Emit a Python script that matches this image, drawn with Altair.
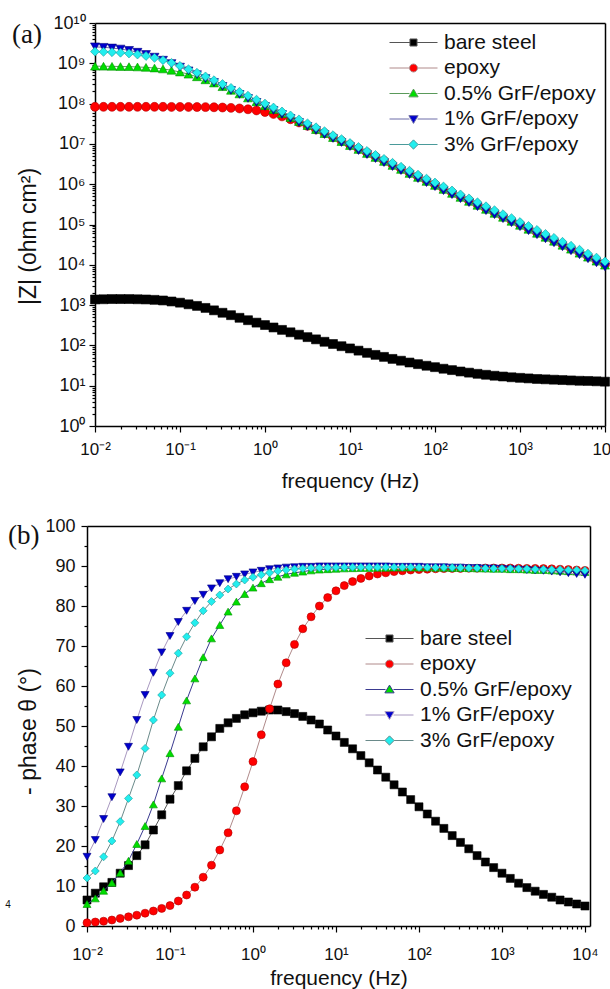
import altair as alt
import pandas as pd

# ---------------- data ----------------
freq = [0.01, 0.01259, 0.01585, 0.01995, 0.02512, 0.03162, 0.03981, 0.05012, 0.0631, 0.07943,
        0.1, 0.1259, 0.1585, 0.1995, 0.2512, 0.3162, 0.3981, 0.5012, 0.631, 0.7943,
        1, 1.259, 1.585, 1.995, 2.512, 3.162, 3.981, 5.012, 6.31, 7.943,
        10, 12.59, 15.85, 19.95, 25.12, 31.62, 39.81, 50.12, 63.1, 79.43,
        100, 125.9, 158.5, 199.5, 251.2, 316.2, 398.1, 501.2, 631, 794.3,
        1000, 1259, 1585, 1995, 2512, 3162, 3981, 5012, 6310, 7943, 10000]

series_names = ["bare steel", "epoxy", "0.5% GrF/epoxy", "1% GrF/epoxy", "3% GrF/epoxy"]

# log10 |Z| (ohm cm2)
logZ_bare = [3.14, 3.145, 3.15, 3.15, 3.15, 3.145, 3.14, 3.13, 3.115,
             3.09, 3.06, 3.02, 2.98, 2.93, 2.87, 2.81, 2.75, 2.685, 2.625, 2.565, 2.505,
             2.445, 2.385, 2.325, 2.265, 2.205, 2.15, 2.09, 2.035, 1.98, 1.925,
             1.87, 1.815, 1.765, 1.715, 1.665, 1.62, 1.575, 1.535, 1.495, 1.46,
             1.421, 1.387, 1.353, 1.324, 1.295, 1.271, 1.247, 1.228, 1.209, 1.195,
             1.181, 1.167, 1.158, 1.149, 1.14, 1.131, 1.122, 1.118, 1.109, 1.10]
logZ_epoxy = [7.92, 7.92, 7.92, 7.92, 7.92, 7.92, 7.92, 7.92, 7.92, 7.918, 7.918,
              7.917, 7.915, 7.913, 7.909, 7.903, 7.894, 7.88, 7.859, 7.831, 7.792,
              7.743, 7.683, 7.612, 7.533, 7.449, 7.359, 7.266, 7.171, 7.075, 6.977,
              6.879, 6.781, 6.683, 6.584, 6.485, 6.386, 6.287, 6.188, 6.089, 5.99,
              5.891, 5.792, 5.693, 5.594, 5.495, 5.396, 5.297, 5.198, 5.099, 5.0,
              4.901, 4.802, 4.703, 4.604, 4.505, 4.406, 4.307, 4.208, 4.109, 4.01]
logZ_g05 = [8.928, 8.927, 8.925, 8.92, 8.917, 8.91, 8.899, 8.883, 8.86, 8.827, 8.784,
            8.73, 8.665, 8.59, 8.51, 8.42, 8.33, 8.24, 8.14, 8.045, 7.948,
            7.851, 7.752, 7.653, 7.554, 7.455, 7.356, 7.257, 7.158, 7.059, 6.96,
            6.861, 6.762, 6.663, 6.564, 6.465, 6.366, 6.267, 6.168, 6.069, 5.97,
            5.871, 5.772, 5.673, 5.574, 5.475, 5.376, 5.277, 5.178, 5.079, 4.98,
            4.881, 4.782, 4.683, 4.584, 4.485, 4.386, 4.287, 4.188, 4.089, 3.99]
logZ_g1 = [9.409, 9.397, 9.38, 9.354, 9.321, 9.275, 9.219, 9.153, 9.077, 8.994, 8.905,
           8.8125, 8.718, 8.6215, 8.524, 8.4255, 8.327, 8.228, 8.129, 8.03, 7.93,
           7.83, 7.731, 7.631, 7.532, 7.432, 7.333, 7.233, 7.134, 7.034, 6.935,
           6.835, 6.736, 6.636, 6.537, 6.437, 6.338, 6.238, 6.139, 6.039, 5.94,
           5.84, 5.741, 5.641, 5.542, 5.442, 5.343, 5.243, 5.144, 5.044, 4.945,
           4.845, 4.746, 4.646, 4.547, 4.447, 4.348, 4.248, 4.149, 4.049, 3.95]
logZ_g3 = [9.29, 9.284, 9.276, 9.263, 9.245, 9.218, 9.182, 9.135, 9.078, 9.011, 8.935,
           8.852, 8.765, 8.674, 8.58, 8.485, 8.389, 8.292, 8.195, 8.097, 8.0,
           7.902, 7.804, 7.706, 7.608, 7.51, 7.412, 7.314, 7.216, 7.118, 7.02,
           6.922, 6.824, 6.726, 6.628, 6.53, 6.432, 6.334, 6.236, 6.138, 6.04,
           5.942, 5.844, 5.746, 5.648, 5.55, 5.452, 5.354, 5.256, 5.158, 5.06,
           4.962, 4.864, 4.766, 4.668, 4.57, 4.472, 4.374, 4.276, 4.178, 4.08]

# - phase (degrees)
phase_bare = [6.5, 8.2, 9.8, 10.9, 13.2, 15.1, 17.6, 20.3, 24.0, 27.8, 31.7, 35.1, 38.8, 41.9,
              44.8, 47.3, 49.4, 50.8, 51.9, 52.8, 53.3, 53.7, 54.0, 54.0,
              53.6, 53.1, 52.4, 51.5, 50.5, 49.0, 47.5, 45.9, 44.3, 42.6, 40.8, 39.0, 37.2,
              35.3, 33.5, 31.6, 29.8, 28.0, 26.2, 24.4, 22.6, 20.9, 19.3, 17.6, 16.0, 14.6,
              13.2, 11.9, 10.7, 9.6, 8.7, 7.9, 7.2, 6.5, 6.0, 5.5, 5.0]
phase_epoxy = [0.8, 1.0, 1.2, 1.5, 1.9, 2.3, 2.7, 3.2, 3.75, 4.4, 5.1, 6.25, 7.75, 9.7, 12.2,
               15.2, 19.0, 23.3, 28.8, 34.8, 41.1, 47.8, 54.3,
               60.5, 65.8, 70.4, 74.3, 77.3, 80.0, 82.1, 83.8, 85.1, 86.1, 86.9, 87.5,
               88.0, 88.3, 88.6, 88.8, 89.0, 89.1, 89.2, 89.3, 89.35, 89.4, 89.4, 89.45, 89.45,
               89.5, 89.5, 89.5, 89.5, 89.45, 89.4, 89.4, 89.35, 89.3, 89.2, 89.1, 89.0, 88.9]
phase_g05 = [5.5, 6.9, 8.8, 10.8, 13.3, 16.3, 20.5, 25.0, 30.4, 36.9, 43.2, 49.8, 56.4,
             61.9, 67.2, 71.9, 75.25, 78.6, 81.1, 83.0, 84.6, 85.7, 86.7, 87.3, 87.9,
             88.3, 88.6, 88.9, 89.1, 89.2, 89.3, 89.4, 89.45, 89.5, 89.5, 89.55, 89.55, 89.6,
             89.6, 89.6, 89.6, 89.6, 89.55, 89.55, 89.5, 89.5, 89.45, 89.4, 89.35, 89.3,
             89.3, 89.2, 89.2, 89.1, 89.0, 89.0, 88.9, 88.8, 88.7, 88.6, 88.5]
phase_g1 = [17.3, 21.5, 26.75, 32.2, 38.4, 44.8, 51.5,
            57.75, 63.3, 68.4, 72.5, 76.0, 78.8, 81.25, 82.8, 84.4, 85.7, 86.7, 87.3, 87.9,
            88.4, 88.8, 89.2, 89.4, 89.6,
            89.7, 89.8, 89.8, 89.9, 89.9, 89.9, 89.9, 89.9, 89.9, 89.9, 89.9, 89.9, 89.8,
            89.8, 89.8, 89.8, 89.7, 89.7, 89.7, 89.6, 89.6, 89.5, 89.5, 89.4, 89.4, 89.3,
            89.2, 89.1, 89.0, 88.9, 88.8, 88.6, 88.4, 88.2, 88.0, 87.8]
phase_g3 = [12.0, 13.75, 17.3, 21.25, 26.1, 31.9, 37.75, 44.4, 51.5,
            57.75, 63.2, 68.2, 72.3, 75.8, 78.8, 81.1, 82.75, 84.25, 85.5, 86.5, 87.2, 87.8,
            88.3, 88.75, 89.0, 89.25,
            89.4, 89.5, 89.55, 89.6, 89.65, 89.7, 89.7, 89.7, 89.7, 89.7, 89.7, 89.7, 89.7,
            89.7, 89.65, 89.65, 89.6, 89.6, 89.6, 89.55, 89.5, 89.5, 89.45, 89.4, 89.4,
            89.35, 89.3, 89.3, 89.2, 89.2, 89.1, 89.1, 89.0, 89.0, 88.9]

logZ_all = [logZ_bare, logZ_epoxy, logZ_g05, logZ_g1, logZ_g3]
phase_all = [phase_bare, phase_epoxy, phase_g05, phase_g1, phase_g3]

# ---------------- styles ----------------
marker_fill = ["#000000", "#ff0000", "#00dd00", "#0000cc", "#22eeee"]
marker_edge = ["#000000", "#b00000", "#009000", "#000080", "#159a9a"]
shapes = ["square", "circle", "triangle-up", "triangle-down", "diamond"]
line_top = ["#555555", "#b08a8a", "#5a9a5a", "#6c6ca8", "#4a9a9a"]
line_bot = ["#555555", "#b08a8a", "#3a3a90", "#a898c0", "#6a8a8a"]
legend_paths = [
    "M-3,0L-0.44,0M0.44,0L3,0M-0.44,-0.44L0.44,-0.44L0.44,0.44L-0.44,0.44Z",
    "M-3,0L-0.5,0M0.5,0L3,0M0.5,0A0.5,0.5,0,1,1,-0.5,0A0.5,0.5,0,1,1,0.5,0Z",
    "M-3,0L-0.5,0M0.5,0L3,0M0,-0.55L0.58,0.42L-0.58,0.42Z",
    "M-3,0L-0.5,0M0.5,0L3,0M0,0.55L0.58,-0.42L-0.58,-0.42Z",
    "M-3,0L-0.58,0M0.58,0L3,0M0,-0.58L0.58,0L0,0.58L-0.58,0Z",
]
FONT = "Liberation Sans"
SUP = str.maketrans("-0123456789", "⁻⁰¹²³⁴⁵⁶⁷⁸⁹")
LOGV = "log(datum.value)/LN10"
IS_DEC = f"abs({LOGV} - round({LOGV})) < 0.01"

# page geometry of the two plot frames (left, right, top, bottom)
W, H = 610, 989
TOP = dict(l=95, r=605, t=23, b=426)
BOT = dict(l=87, r=590, t=526, b=926)


def decade_label_expr(lo, hi):
    expr = "''"
    for e in range(hi, lo - 1, -1):
        expr = f"round({LOGV}) == {e} ? '10{str(e).translate(SUP)}' : {expr}"
    return f"({IS_DEC}) ? ({expr}) : ''"


def log_ticks(lo, hi):
    vals = []
    for e in range(lo, hi):
        for m in range(1, 10):
            vals.append(float(f"{m}e{e}"))
    vals.append(float(f"1e{hi}"))
    return vals


def tick_cond(test, major, minor):
    return {"condition": {"test": test, "value": major}, "value": minor}


def frame_axes(g):
    ax_top = alt.Axis(orient="top", offset=-g["t"], labels=False, ticks=False, title=None,
                      grid=False, domainColor="black", domainWidth=1.5)
    ax_right = alt.Axis(orient="right", offset=-(W - g["r"]), labels=False, ticks=False,
                        title=None, grid=False, domainColor="black", domainWidth=1.5)
    return ax_top, ax_right


# ---------------- data frames ----------------
top_rows, bot_rows = [], []
for name, zs, ps in zip(series_names, logZ_all, phase_all):
    for f, z, p in zip(freq, zs, ps):
        top_rows.append({"freq": f, "Z": 10 ** z, "series": name})
        bot_rows.append({"freq": f, "phase": p, "series": name})
top_df = pd.DataFrame(top_rows)
bot_df = pd.DataFrame(bot_rows)


def series_layers(df, yfield, xscale, yscale, ax_x, ax_y, fr_x, fr_y, line_colors, size):
    layers = []
    for i, name in enumerate(series_names):
        base = alt.Chart(df).transform_filter(alt.datum.series == name)
        lx, ly = (ax_x, ax_y) if i == 0 else (None, None)
        px, py = (fr_x, fr_y) if i == 0 else (None, None)
        layers.append(base.mark_line(color=line_colors[i], strokeWidth=1).encode(
            x=alt.X("freq:Q", scale=xscale, axis=lx),
            y=alt.Y(f"{yfield}:Q", scale=yscale, axis=ly)))
        layers.append(base.mark_point(shape=shapes[i], filled=True, fill=marker_fill[i],
                                      stroke=marker_edge[i], strokeWidth=0.6, opacity=1,
                                      size=size).encode(
            x=alt.X("freq:Q", scale=xscale, axis=px),
            y=alt.Y(f"{yfield}:Q", scale=yscale, axis=py)))
    return layers


def legend_layer(domain, line_colors, lx, ly):
    lg = alt.Legend(orient="none", legendX=lx, legendY=ly, title=None, labelFont=FONT,
                    labelFontSize=21, labelColor="#111111", labelOffset=20, labelLimit=400,
                    symbolSize=256, symbolStrokeWidth=1, symbolOpacity=1, rowPadding=3.5,
                    padding=0)
    return alt.Chart(pd.DataFrame({"series": domain})).transform_filter("false").mark_point(
        filled=True, opacity=1).encode(
        fill=alt.Fill("series:N", scale=alt.Scale(domain=domain, range=marker_fill), legend=lg),
        stroke=alt.Stroke("series:N", scale=alt.Scale(domain=domain, range=line_colors), legend=lg),
        shape=alt.Shape("series:N", scale=alt.Scale(domain=domain, range=legend_paths), legend=lg),
    )


def text_layer(txt, x, y, font, size, align="left"):
    return alt.Chart(pd.DataFrame({"t": [txt]})).mark_text(
        align=align, baseline="middle", font=font, fontSize=size, color="#111111"
    ).encode(x=alt.value(x), y=alt.value(y), text="t:N")


# ---------------- top panel (|Z|) ----------------
xs_top = alt.Scale(type="log", domain=[0.01, 10000], range=[TOP["l"], TOP["r"]], nice=False)
ys_top = alt.Scale(type="log", domain=[1, 1e10], range=[TOP["b"], TOP["t"]], nice=False)
xaxis_top = alt.Axis(orient="bottom", offset=TOP["b"] - H, values=log_ticks(-2, 4),
                     labelExpr=decade_label_expr(-2, 4), tickSize=tick_cond(IS_DEC, 6, 3),
                     labelFontSize=17, labelPadding=9, labelOverlap=False, labelFlush=False,
                     labelBound=False, title="frequency (Hz)", titleFontSize=21,
                     titleX=(TOP["l"] + TOP["r"]) / 2, titleY=55, titleBaseline="middle",
                     titleAlign="center")
yaxis_top = alt.Axis(orient="left", offset=-TOP["l"], values=log_ticks(0, 10),
                     labelExpr=decade_label_expr(0, 10), tickSize=tick_cond(IS_DEC, 6, 3),
                     labelFontSize=18, labelPadding=4, labelOverlap=False, labelFlush=False,
                     labelBound=False, title="|Z| (ohm cm²)", titleFontSize=23,
                     titleX=28 - TOP["l"], titleY=236, titleBaseline="middle",
                     titleAlign="center", titleAngle=270)
fr_top_x, fr_top_y = frame_axes(TOP)

# ---------------- bottom panel (phase) ----------------
xs_bot = alt.Scale(type="log", domain=[0.01, 11500], range=[BOT["l"], BOT["r"]], nice=False)
ys_bot = alt.Scale(domain=[0, 100], range=[BOT["b"], BOT["t"]], nice=False)
xaxis_bot = alt.Axis(orient="bottom", offset=BOT["b"] - H, values=log_ticks(-2, 4),
                     labelExpr=decade_label_expr(-2, 4), tickSize=tick_cond(IS_DEC, 6, 3),
                     labelFontSize=17, labelPadding=14, labelOverlap=False, labelFlush=False,
                     labelBound=False, title="frequency (Hz)", titleFontSize=21,
                     titleX=(BOT["l"] + BOT["r"]) / 2, titleY=52, titleBaseline="middle",
                     titleAlign="center")
yaxis_bot = alt.Axis(orient="left", offset=-BOT["l"], values=list(range(0, 101, 5)),
                     labelExpr="datum.value % 10 == 0 ? datum.label : ''",
                     tickSize=tick_cond("datum.value % 10 == 0", 6, 3), labelFontSize=18,
                     labelPadding=6, labelOverlap=False, labelFlush=False, labelBound=False,
                     title="- phase θ (°)", titleFontSize=23, titleX=28 - BOT["l"], titleY=731,
                     titleBaseline="middle", titleAlign="center", titleAngle=270)
fr_bot_x, fr_bot_y = frame_axes(BOT)

layers = []
layers += series_layers(top_df, "Z", xs_top, ys_top, xaxis_top, yaxis_top,
                        fr_top_x, fr_top_y, line_top, 80)
layers += series_layers(bot_df, "phase", xs_bot, ys_bot, xaxis_bot, yaxis_bot,
                        fr_bot_x, fr_bot_y, line_bot, 64)
layers.append(legend_layer(series_names, line_top, 403, 32))
layers.append(legend_layer([n + " " for n in series_names], line_bot, 379, 628))
layers.append(text_layer("(a)", 12, 35, "Liberation Serif", 27))
layers.append(text_layer("(b)", 8, 536, "Liberation Serif", 27))
layers.append(text_layer("4", 8, 905, FONT, 10, align="center"))

chart = alt.layer(*layers).resolve_scale(
    x="independent", y="independent", fill="independent", stroke="independent",
    shape="independent"
).resolve_axis(x="independent", y="independent").resolve_legend(
    fill="independent", stroke="independent", shape="independent"
).properties(
    width=W, height=H, autosize=alt.AutoSizeParams(type="none"), padding=0
).configure_view(stroke="transparent").configure_axis(
    domainColor="black", domainWidth=1.5, tickColor="black", tickWidth=1.2,
    labelColor="#111111", titleColor="#111111", grid=False, labelFont=FONT,
    titleFont=FONT, titleFontWeight="normal"
)

chart.save("out.html", embed_options={"renderer": "svg", "actions": False})
